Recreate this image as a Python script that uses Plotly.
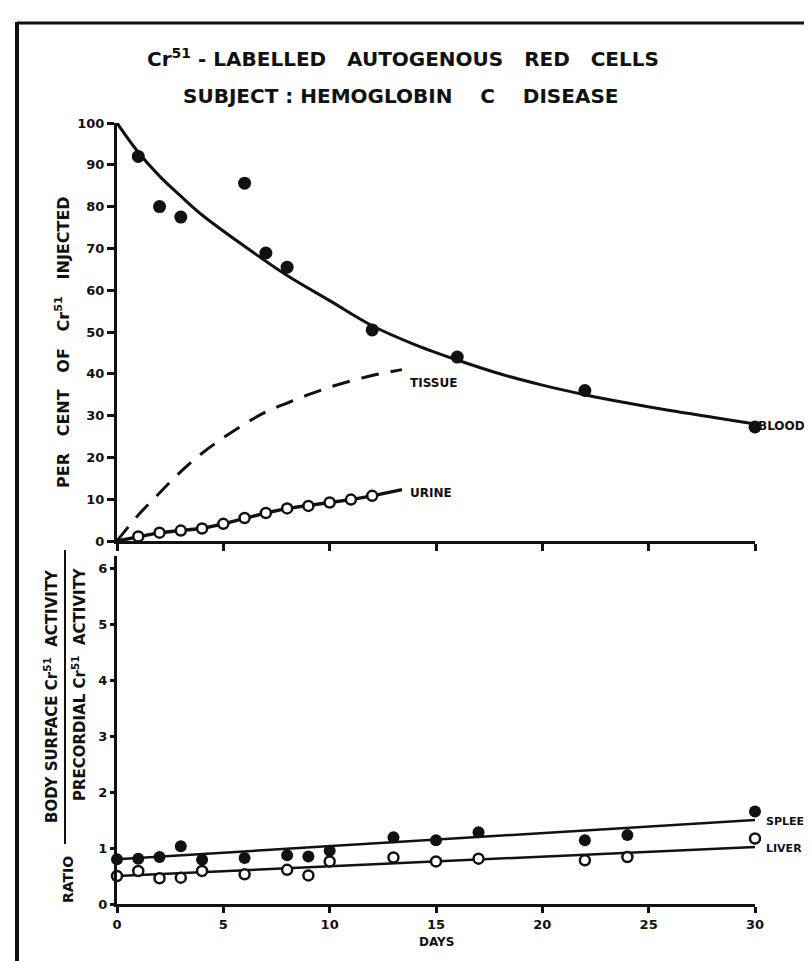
import plotly.graph_objects as go

# ---------------- data ----------------
blood_days = [1, 2, 3, 6, 7, 8, 12, 16, 22, 30]
blood_pct = [92, 80, 77.5, 85.6, 68.9, 65.5, 50.5, 44, 36, 27.3]

blood_curve_days = [0, 1, 2, 3, 4, 6, 8, 10, 12, 14, 16, 18, 20, 22, 24, 26, 28, 30]
blood_curve_pct = [100, 93, 87.3, 82.5, 78, 70.5, 63.5, 57.5, 51.5, 47, 43.3, 40, 37.3, 35, 33, 31.2, 29.6, 28]

tissue_days = [0, 1, 2, 3, 4, 5, 6, 7, 8, 9, 10, 11, 12, 13.4]
tissue_pct = [0, 6.2, 11.5, 16.6, 21, 24.7, 28, 30.9, 33.0, 35.0, 36.8, 38.3, 39.6, 41]

urine_days = [1, 2, 3, 4, 5, 6, 7, 8, 9, 10, 11, 12]
urine_pct = [1.1, 2.0, 2.5, 3.0, 4.1, 5.5, 6.7, 7.8, 8.4, 9.2, 9.9, 10.8]
urine_line_days = [0] + urine_days + [13.4]
urine_line_pct = [0] + urine_pct + [12.3]

ratio_days = [0, 1, 2, 3, 4, 6, 8, 9, 10, 13, 15, 17, 22, 24, 30]
spleen_ratio = [0.80, 0.81, 0.84, 1.03, 0.79, 0.82, 0.87, 0.85, 0.95, 1.19, 1.14, 1.28, 1.14, 1.23, 1.65]
liver_ratio = [0.50, 0.59, 0.46, 0.47, 0.59, 0.53, 0.61, 0.51, 0.76, 0.83, 0.76, 0.81, 0.78, 0.84, 1.17]
fit_days = [0, 30]
spleen_fit = [0.80, 1.50]
liver_fit = [0.50, 1.02]

pct_ticks = list(range(0, 101, 10))
ratio_ticks = list(range(0, 7))
day_ticks = list(range(0, 31, 5))

# ---------------- layout geometry (pixels) ----------------
W, H = 812, 961
L, R = 109, 747          # plot area left / right
T, B = 115, 896          # plot area top / bottom
TOP_BOTTOM = 533         # bottom of upper panel
BOT_TOP = 548            # top of lower panel
PW, PH = R - L, B - T
X_MAX = 30
PCT_MAX = 100
RATIO_MAX = (B - BOT_TOP) / 56.0


def px(x):
    return (x - L) / PW


def py(y):
    return (B - y) / PH


top_dom = [py(TOP_BOTTOM), 1]
bot_dom = [0, py(BOT_TOP)]


def dx(day):
    return day / X_MAX


def dy_top(v):
    return top_dom[0] + v / PCT_MAX * (top_dom[1] - top_dom[0])


def dy_bot(v):
    return bot_dom[0] + v / RATIO_MAX * (bot_dom[1] - bot_dom[0])


FONT = "DejaVu Sans"
BLACK = "#111111"

fig = go.Figure()

# upper panel
fig.add_trace(go.Scatter(x=blood_curve_days, y=blood_curve_pct, mode="lines",
                         line=dict(color=BLACK, width=3, shape="spline", smoothing=1.0),
                         xaxis="x", yaxis="y", cliponaxis=False, showlegend=False))
fig.add_trace(go.Scatter(x=blood_days, y=blood_pct, mode="markers",
                         marker=dict(color=BLACK, size=13),
                         xaxis="x", yaxis="y", cliponaxis=False, showlegend=False))
fig.add_trace(go.Scatter(x=tissue_days, y=tissue_pct, mode="lines",
                         line=dict(color=BLACK, width=3, dash="18px,12px", shape="spline"),
                         xaxis="x", yaxis="y", cliponaxis=False, showlegend=False))
fig.add_trace(go.Scatter(x=urine_line_days, y=urine_line_pct, mode="lines",
                         line=dict(color=BLACK, width=3.5),
                         xaxis="x", yaxis="y", cliponaxis=False, showlegend=False))
fig.add_trace(go.Scatter(x=urine_days, y=urine_pct, mode="markers",
                         marker=dict(color="white", size=10, line=dict(color=BLACK, width=2.5)),
                         xaxis="x", yaxis="y", cliponaxis=False, showlegend=False))

# lower panel
fig.add_trace(go.Scatter(x=fit_days, y=spleen_fit, mode="lines",
                         line=dict(color=BLACK, width=2.5),
                         xaxis="x2", yaxis="y2", cliponaxis=False, showlegend=False))
fig.add_trace(go.Scatter(x=fit_days, y=liver_fit, mode="lines",
                         line=dict(color=BLACK, width=2.5),
                         xaxis="x2", yaxis="y2", cliponaxis=False, showlegend=False))
fig.add_trace(go.Scatter(x=ratio_days, y=spleen_ratio, mode="markers",
                         marker=dict(color=BLACK, size=12),
                         xaxis="x2", yaxis="y2", cliponaxis=False, showlegend=False))
fig.add_trace(go.Scatter(x=ratio_days, y=liver_ratio, mode="markers",
                         marker=dict(color="white", size=10, line=dict(color=BLACK, width=2.5)),
                         xaxis="x2", yaxis="y2", cliponaxis=False, showlegend=False))

tickfont = dict(family=FONT, size=13, color=BLACK, weight="bold")
axis_common = dict(showgrid=False, zeroline=False, showline=True, linecolor=BLACK,
                   linewidth=3, ticks="outside", tickcolor=BLACK, tickwidth=2.5,
                   tickfont=tickfont, mirror=False)

fig.update_layout(
    width=W, height=H,
    margin=dict(l=L, r=W - R, t=T, b=H - B),
    paper_bgcolor="white", plot_bgcolor="white",
    xaxis=dict(domain=[0, 1], range=[0, X_MAX], anchor="y", tickvals=day_ticks,
               showticklabels=False, ticklen=7, **axis_common),
    yaxis=dict(domain=top_dom, range=[0, PCT_MAX], anchor="x", tickvals=pct_ticks,
               ticklen=7, **axis_common),
    xaxis2=dict(domain=[0, 1], range=[0, X_MAX], anchor="y2", tickvals=day_ticks,
                ticklen=6, **axis_common),
    yaxis2=dict(domain=bot_dom, range=[0, RATIO_MAX], anchor="x2",
                tickvals=ratio_ticks, ticklen=4, **axis_common),
)

ann_font = dict(family=FONT, size=12, color=BLACK, weight="bold")
nb = "\u00a0"


def pann(text, x, y, size, angle=0):
    return dict(text=text, x=px(x), y=py(y), xref="paper", yref="paper",
                xanchor="center", yanchor="middle", showarrow=False, textangle=angle,
                font=dict(family=FONT, size=size, color=BLACK, weight="bold"))


def lab(text, x, y, size=12):
    return dict(text=text, x=x, y=y, xref="paper", yref="paper", xanchor="left",
                yanchor="middle", showarrow=False,
                font=dict(family=FONT, size=size, color=BLACK, weight="bold"))


annotations = [
    pann("Cr<sup>51</sup>" + nb + "-" + nb + "LABELLED" + nb * 3 + "AUTOGENOUS" + nb * 3 + "RED" + nb * 3 + "CELLS",
         395, 50, 20),
    pann("SUBJECT" + nb + ":" + nb + "HEMOGLOBIN" + nb * 4 + "C" + nb * 4 + "DISEASE", 392, 88, 20),
    pann("PER" + nb * 3 + "CENT" + nb * 3 + "OF" + nb * 3 + "Cr<sup>51</sup>" + nb * 3 + "INJECTED",
         54, 334, 16, -90),
    pann("BODY" + nb + "SURFACE" + nb + "Cr<sup>51</sup>" + nb * 2 + "ACTIVITY", 43, 688, 15, -90),
    pann("PRECORDIAL" + nb + "Cr<sup>51</sup>" + nb * 2 + "ACTIVITY", 71, 676, 15, -90),
    pann("RATIO", 60, 872, 14, -90),
    pann("DAYS", 428, 934, 12),
    lab("TISSUE", dx(13.7), dy_top(37.8)),
    lab("URINE", dx(13.7), dy_top(11.6)),
    lab("BLOOD", dx(30.05), dy_top(27.5)),
    lab("SPLEEN", dx(30.4), dy_bot(1.48), 11),
    lab("LIVER", dx(30.4), dy_bot(1.0), 11),
]
fig.update_layout(annotations=annotations)

# frame around the figure and fraction bar
shapes = [
    dict(type="line", xref="paper", yref="paper", x0=px(9), x1=px(9), y0=py(14), y1=py(956),
         line=dict(color=BLACK, width=4)),
    dict(type="line", xref="paper", yref="paper", x0=px(9), x1=px(830), y0=py(15), y1=py(15),
         line=dict(color=BLACK, width=3)),
    dict(type="line", xref="paper", yref="paper", x0=px(150), x1=px(830), y0=py(955), y1=py(955),
         line=dict(color="#555555", width=2)),
    dict(type="line", xref="paper", yref="paper", x0=px(57), x1=px(57), y0=py(542), y1=py(836),
         line=dict(color=BLACK, width=2)),
]
fig.update_layout(shapes=shapes)

fig.write_html("out.html")
